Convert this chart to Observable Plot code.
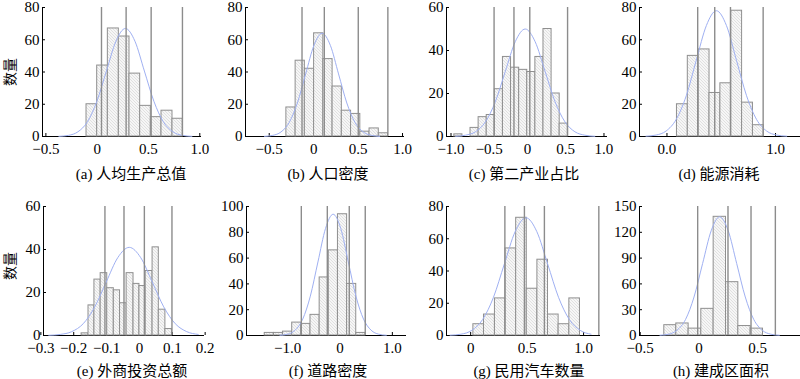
<!DOCTYPE html>
<html><head><meta charset="utf-8">
<script src="https://cdn.jsdelivr.net/npm/d3@7"></script>
<script src="https://cdn.jsdelivr.net/npm/@observablehq/plot@0.6"></script>
<style>
html,body{margin:0;padding:0;background:#fff;}
body{width:800px;height:379px;overflow:hidden;position:relative;font-family:"Liberation Serif","Noto Sans CJK SC",serif;}
.panel{position:absolute;}
.cap{position:absolute;font-size:15px;line-height:15px;white-space:nowrap;transform:translate(-50%,-50%);color:#000;}
.ylab{position:absolute;font-size:14px;line-height:14px;white-space:nowrap;transform:translate(-50%,-50%) rotate(-90deg);font-family:"Noto Sans CJK SC",sans-serif;color:#000;}
</style></head><body>
<script>
// ---- data ----
const captions = ["(a) 人均生产总值","(b) 人口密度","(c) 第二产业占比","(d) 能源消耗","(e) 外商投资总额","(f) 道路密度","(g) 民用汽车数量","(h) 建成区面积"];
const yTitle = "数量";

const edgesA = [-0.104,0,0.104,0.211,0.315,0.419,0.523,0.627,0.734,0.834];
const countsA = [20,44,67,62,39,19,12,16,11];
const breaksA = [0.042,0.282,0.526,0.831];
const curveXA = [-0.373,-0.28,-0.188,-0.095,-0.003,0.09,0.183,0.275,0.368,0.46,0.553,0.645,0.738,0.83,0.923];
const curveYA = [0.1,0.7,2.9,9.1,21.8,40.6,59.1,67,59.1,40.6,21.8,9.1,2.9,0.7,0.1];
const xTicksA = [-0.5,0,0.5,1]; const xLabelsA = ["−0.5","0","0.5","1.0"];
const yTicksA = [0,20,40,60,80];

const edgesB = [-0.307,-0.203,-0.099,0.005,0.109,0.213,0.317,0.421,0.525,0.629,0.733,0.837];
const countsB = [18,47,42,64,48,31,16,14,3,5,2];
const breaksB = [-0.131,0.12,0.502,0.835];
const curveXB = [-0.553,-0.46,-0.368,-0.275,-0.183,-0.09,0.003,0.095,0.188,0.28,0.373,0.465,0.558,0.65,0.743];
const curveYB = [0.1,0.7,2.8,8.7,20.8,38.8,56.5,64,56.5,38.8,20.8,8.7,2.8,0.7,0.1];
const xTicksB = [-0.5,0,0.5,1]; const xLabelsB = ["−0.5","0","0.5","1.0"];
const yTicksB = [0,20,40,60,80];

const edgesC = [-0.957,-0.851,-0.745,-0.639,-0.533,-0.427,-0.321,-0.215,-0.109,-0.003,0.103,0.209,0.315,0.421,0.527];
const countsC = [1,0,4,9,10,22,37,32,31,30,37,50,20,6];
const breaksC = [-0.437,-0.177,0.03,0.524];
const curveXC = [-0.94,-0.81,-0.68,-0.55,-0.42,-0.29,-0.16,-0.03,0.1,0.23,0.36,0.49,0.62,0.75,0.88];
const curveYC = [0.1,0.6,2.2,6.8,16.2,30.3,44.1,50,44.1,30.3,16.2,6.8,2.2,0.6,0.1];
const xTicksC = [-1,-0.5,0,0.5,1]; const xLabelsC = ["−1.0","−0.5","0","0.5","1.0"];
const yTicksC = [0,20,40,60];

const edgesD = [0.092,0.192,0.292,0.392,0.492,0.592,0.692,0.792,0.892];
const countsD = [20,50,54,27,33,78,21,7];
const breaksD = [0.283,0.44,0.585,0.886];
const curveXD = [-0.193,-0.1,-0.008,0.085,0.178,0.27,0.363,0.455,0.548,0.64,0.733,0.825,0.918,1.01,1.103];
const curveYD = [0.2,0.9,3.4,10.6,25.3,47.3,68.8,78,68.8,47.3,25.3,10.6,3.4,0.9,0.2];
const xTicksD = [0,1]; const xLabelsD = ["0.0","1.0"];
const yTicksD = [0,20,40,60,80];

const edgesE = [-0.176,-0.155,-0.137,-0.118,-0.098,-0.078,-0.059,-0.039,-0.018,0,0.019,0.04,0.059,0.079,0.099];
const countsE = [1,14,26,29,22,21,15,29,24,23,30,41,12,3];
const breaksE = [-0.105,-0.047,0.015,0.099];
const curveXE = [-0.276,-0.241,-0.206,-0.171,-0.136,-0.101,-0.066,-0.031,0.004,0.039,0.074,0.109,0.144,0.179];
const curveYE = [0.1,0.5,1.8,5.5,13.3,24.9,36.2,41,36.2,24.9,13.3,5.5,1.8,0.5];
const xTicksE = [-0.3,-0.2,-0.1,0,0.1,0.2]; const xLabelsE = ["−0.3","−0.2","−0.1","0","0.1","0.2"];
const yTicksE = [0,20,40,60];

const edgesF = [-1.435,-1.26,-1.086,-0.911,-0.737,-0.562,-0.387,-0.213,-0.038,0.137,0.311,0.486];
const countsF = [2,2,3,10,9,16,45,66,94,40,2];
const breaksF = [-0.737,-0.241,0.178,0.483];
const curveXF = [-1.145,-1.0,-0.855,-0.71,-0.565,-0.42,-0.275,-0.13,0.015,0.16,0.305,0.45,0.595,0.74,0.885];
const curveYF = [0.2,1.0,4.1,12.7,30.5,57,83,94,83,57,30.5,12.7,4.1,1.0,0.2];
const xTicksF = [-1,0,1]; const xLabelsF = ["−1.0","0","1.0"];
const yTicksF = [0,20,40,60,80,100];

const edgesG = [0.024,0.118,0.215,0.309,0.403,0.497,0.591,0.685,0.779,0.874,0.968];
const countsG = [7,13,23,54,73,29,47,13,7,23];
const breaksG = [0.303,0.476,0.653,1.135];
const curveXG = [-0.182,-0.086,0.01,0.106,0.202,0.298,0.394,0.49,0.586,0.682,0.778,0.874,0.97,1.066];
const curveYG = [0.2,0.8,3.2,9.9,23.7,44.3,64.4,73,64.4,44.3,23.7,9.9,3.2,0.8];
const xTicksG = [0,0.5,1]; const xLabelsG = ["0","0.5","1.0"];
const yTicksG = [0,20,40,60,80];

const edgesH = [-0.295,-0.193,-0.088,0.02,0.125,0.23,0.335,0.44,0.545];
const countsH = [12,14,8,31,138,62,11,8];
const breaksH = [-0.011,0.247,0.443,0.65];
const curveXH = [-0.332,-0.259,-0.187,-0.114,-0.042,0.031,0.104,0.176,0.249,0.321,0.394,0.466,0.539,0.611,0.684];
const curveYH = [0.3,1.5,6.1,18.7,44.8,83.7,121.8,138,121.8,83.7,44.8,18.7,6.1,1.5,0.3];
const xTicksH = [-0.5,0,0.5]; const xLabelsH = ["−0.5","0","0.5"];
const yTicksH = [0,30,60,90,120,150];

// ---- layout (pixel geometry of each panel) ----
const panels = [
  {edges:edgesA,counts:countsA,breaks:breaksA,cx:curveXA,cy:curveYA,xt:xTicksA,xl:xLabelsA,yt:yTicksA,xd:[-0.533,1.007],x0:42,x1:200,top:7,base:136,capX:131,capY:174},
  {edges:edgesB,counts:countsB,breaks:breaksB,cx:curveXB,cy:curveYB,xt:xTicksB,xl:xLabelsB,yt:yTicksB,xd:[-0.767,1.011],x0:245,x1:403,top:7,base:136,capX:328,capY:174},
  {edges:edgesC,counts:countsC,breaks:breaksC,cx:curveXC,cy:curveYC,xt:xTicksC,xl:xLabelsC,yt:yTicksC,xd:[-1.059,1.033],x0:446,x1:606,top:7,base:136,capX:524,capY:174},
  {edges:edgesD,counts:countsD,breaks:breaksD,cx:curveXD,cy:curveYD,xt:xTicksD,xl:xLabelsD,yt:yTicksD,xd:[-0.253,1.23],x0:639,x1:800,top:7,base:136,capX:719,capY:174},
  {edges:edgesE,counts:countsE,breaks:breaksE,cx:curveXE,cy:curveYE,xt:xTicksE,xl:xLabelsE,yt:yTicksE,xd:[-0.292,0.195],x0:43,x1:203,top:206,base:335,capX:132,capY:371},
  {edges:edgesF,counts:countsF,breaks:breaksF,cx:curveXF,cy:curveYF,xt:xTicksF,xl:xLabelsF,yt:yTicksF,xd:[-1.783,1.251],x0:246,x1:405,top:206,base:335,capX:328,capY:371},
  {edges:edgesG,counts:countsG,breaks:breaksG,cx:curveXG,cy:curveYG,xt:xTicksG,xl:xLabelsG,yt:yTicksG,xd:[-0.214,1.141],x0:446,x1:599,top:206,base:335,capX:529,capY:371},
  {edges:edgesH,counts:countsH,breaks:breaksH,cx:curveXH,cy:curveYH,xt:xTicksH,xl:xLabelsH,yt:yTicksH,xd:[-0.506,0.864],x0:639,x1:800,top:206,base:335,capX:721,capY:371}
];

const ML = 40, MR = 14, MT = 8, MB = 30;
panels.forEach((p, i) => {
  const bins = p.counts.map((c, k) => ({x1: p.edges[k], x2: p.edges[k+1], y: c}));
  const curve = p.cx.map((x, k) => ({x, y: p.cy[k]}));
  const ymax = p.yt[p.yt.length - 1];
  const svg = Plot.plot({
    width: (p.x1 - p.x0) + ML + MR,
    height: (p.base - p.top) + MT + MB,
    marginLeft: ML, marginRight: MR, marginTop: MT, marginBottom: MB,
    style: {fontFamily: "'Liberation Serif', 'Times New Roman', serif", fontSize: "15px", background: "transparent", overflow: "visible", color: "#000"},
    x: {domain: p.xd, ticks: p.xt, tickFormat: d => p.xl[p.xt.indexOf(d)], tickSize: -3, tickPadding: 10, label: null, line: true},
    y: {domain: [0, ymax], ticks: p.yt, tickSize: -3, tickPadding: 6, label: null, line: true},
    marks: [
      Plot.rectY(bins, {x1: "x1", x2: "x2", y: "y", fill: `url(#hatch${i})`, stroke: "#8f8f8f", strokeWidth: 1}),
      Plot.line(curve, {x: "x", y: "y", curve: "monotone-x", stroke: "#9fb0f2", strokeWidth: 1}),
      Plot.ruleX(p.breaks, {y1: 0, y2: ymax, stroke: "#8c8c8c", strokeWidth: 1.4})
    ]
  });
  const ns = "http://www.w3.org/2000/svg";
  const defs = document.createElementNS(ns, "defs");
  defs.innerHTML = `<pattern id="hatch${i}" patternUnits="userSpaceOnUse" width="3" height="3">
    <rect width="3" height="3" fill="#f6f6f6"></rect>
    <path d="M-1,-1 L4,4 M2,-1 L4,1 M-1,2 L1,4" stroke="#d2d2d2" stroke-width="0.6"></path></pattern>`;
  svg.insertBefore(defs, svg.firstChild);
  svg.classList.add("panel");
  svg.style.left = (p.x0 - ML) + "px";
  svg.style.top = (p.top - MT) + "px";
  svg.style.position = "absolute";
  document.body.appendChild(svg);

  const cap = document.createElement("div");
  cap.className = "cap";
  cap.textContent = captions[i];
  cap.style.left = p.capX + "px";
  cap.style.top = p.capY + "px";
  document.body.appendChild(cap);
});

[72, 266].forEach(y => {
  const d = document.createElement("div");
  d.className = "ylab";
  d.textContent = yTitle;
  d.style.left = "9px";
  d.style.top = y + "px";
  document.body.appendChild(d);
});
</script>
</body></html>
